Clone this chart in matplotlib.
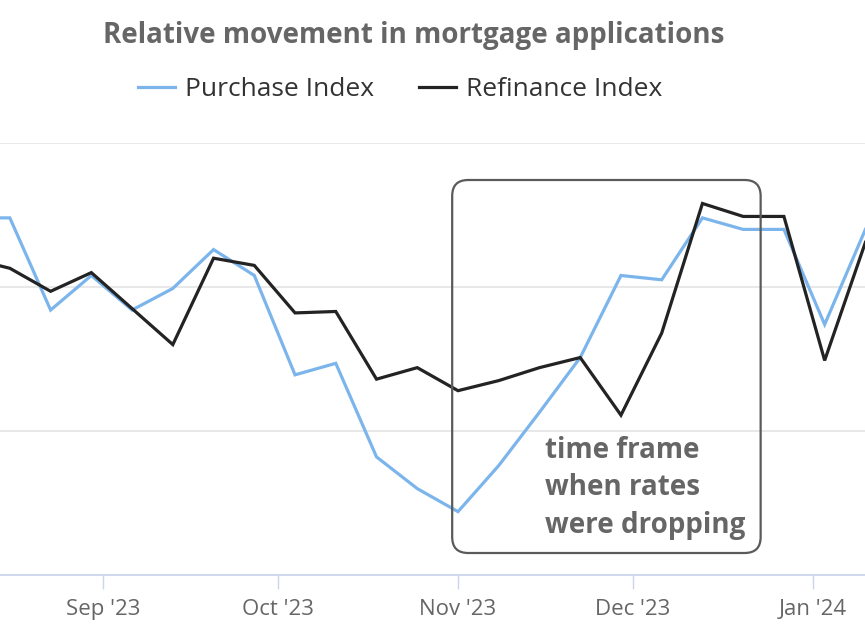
import matplotlib
matplotlib.use("Agg")
import matplotlib.pyplot as plt
import matplotlib.dates as mdates
from matplotlib.patches import FancyBboxPatch
import numpy as np
import datetime as dt

# ---------------- data ----------------
dates = ["2023-08-09", "2023-08-16", "2023-08-23", "2023-08-30", "2023-09-06",
         "2023-09-13", "2023-09-20", "2023-09-27", "2023-10-04", "2023-10-11",
         "2023-10-18", "2023-10-25", "2023-11-01", "2023-11-08", "2023-11-15",
         "2023-11-22", "2023-11-29", "2023-12-06", "2023-12-13", "2023-12-20",
         "2023-12-27", "2024-01-03", "2024-01-10"]
purchase = [2.48, 2.48, 1.84, 2.08, 1.84, 1.99, 2.26, 2.08, 1.39, 1.47, 0.82, 0.60,
            0.44, 0.76, 1.13, 1.51, 2.08, 2.05, 2.48, 2.40, 2.40, 1.74, 2.40]
refinance = [2.20, 2.13, 1.97, 2.10, 1.85, 1.60, 2.20, 2.15, 1.82, 1.83, 1.36, 1.44,
             1.28, 1.35, 1.44, 1.51, 1.11, 1.68, 2.58, 2.49, 2.49, 1.49, 2.31]
series_names = ["Purchase Index", "Refinance Index"]
tick_dates = ["2023-09-01", "2023-10-01", "2023-11-01", "2023-12-01", "2024-01-01"]
tick_labels = ["Sep '23", "Oct '23", "Nov '23", "Dec '23", "Jan '24"]
title = "Relative movement in mortgage applications"
note = "time frame\nwhen rates\nwere dropping"
box_start, box_end = "2023-10-31", "2023-12-23"

# ---------------- figure ----------------
W, H = 865, 629
fig = plt.figure(figsize=(W / 100, H / 100), dpi=100)
ax = fig.add_axes([0, 1 - 575 / H, 1, (575 - 143) / H])

x = [dt.datetime.strptime(d, "%Y-%m-%d") for d in dates]
blue, dark = "#7cb5ec", "#232323"
cond = ["Open Sans", "DejaVu Sans"]

ax.plot(x, purchase, color=blue, lw=2.3, label=series_names[0], solid_joinstyle="miter")
ax.plot(x, refinance, color=dark, lw=2.3, label=series_names[1], solid_joinstyle="miter")

x0 = mdates.date2num(dt.datetime(2023, 11, 1)) - 458 / 5.82
ax.set_xlim(x0, x0 + 865 / 5.82)
ax.set_ylim(0, 3)
ax.set_yticks([1, 2, 3])
ax.yaxis.grid(True, color="#e6e6e6", lw=1.3)
ax.tick_params(axis="y", left=False, labelleft=False)
for s in ["top", "left", "right"]:
    ax.spines[s].set_visible(False)
ax.spines["bottom"].set_color("#ccd6eb")
ax.spines["bottom"].set_linewidth(1.3)
ax.set_xticks([mdates.date2num(dt.datetime.strptime(d, "%Y-%m-%d")) for d in tick_dates])
ax.set_xticklabels(tick_labels, family=cond, fontsize=16, color="#666666")
ax.tick_params(axis="x", length=10, width=1, color="#ccd6eb", pad=7)
ax.set_axisbelow(True)

# annotation box (rounded)
fig.canvas.draw()
bx0 = mdates.date2num(dt.datetime.strptime(box_start, "%Y-%m-%d"))
bx1 = mdates.date2num(dt.datetime.strptime(box_end, "%Y-%m-%d"))
p0 = ax.transData.transform((bx0, (575 - 553) / 144))
p1 = ax.transData.transform((bx1, (575 - 180) / 144))
box = FancyBboxPatch((p0[0] / 100, p0[1] / 100), (p1[0] - p0[0]) / 100, (p1[1] - p0[1]) / 100,
                     boxstyle="round,pad=0,rounding_size=0.16",
                     transform=fig.dpi_scale_trans, fill=False, ec="#5a5a5a", lw=1.6,
                     clip_on=False, zorder=5)
ax.add_patch(box)
fig.text(545 / W, 1 - 436 / H, note, ha="left", va="top", fontsize=20,
         fontweight="bold", color="#666666", family=cond,
         linespacing=1.38)

fig.text(414 / W, 1 - 36 / H, title, ha="center", va="center", fontsize=20,
         fontweight="bold", color="#666666", family=cond)
fig.legend(loc="center", bbox_to_anchor=(400 / W, 1 - 90 / H), ncol=2, frameon=False,
           prop={"family": cond, "size": 19}, handlelength=1.4, handletextpad=0.38,
           columnspacing=1.7, labelcolor="#333333")

fig.savefig("out.png", dpi=100)
